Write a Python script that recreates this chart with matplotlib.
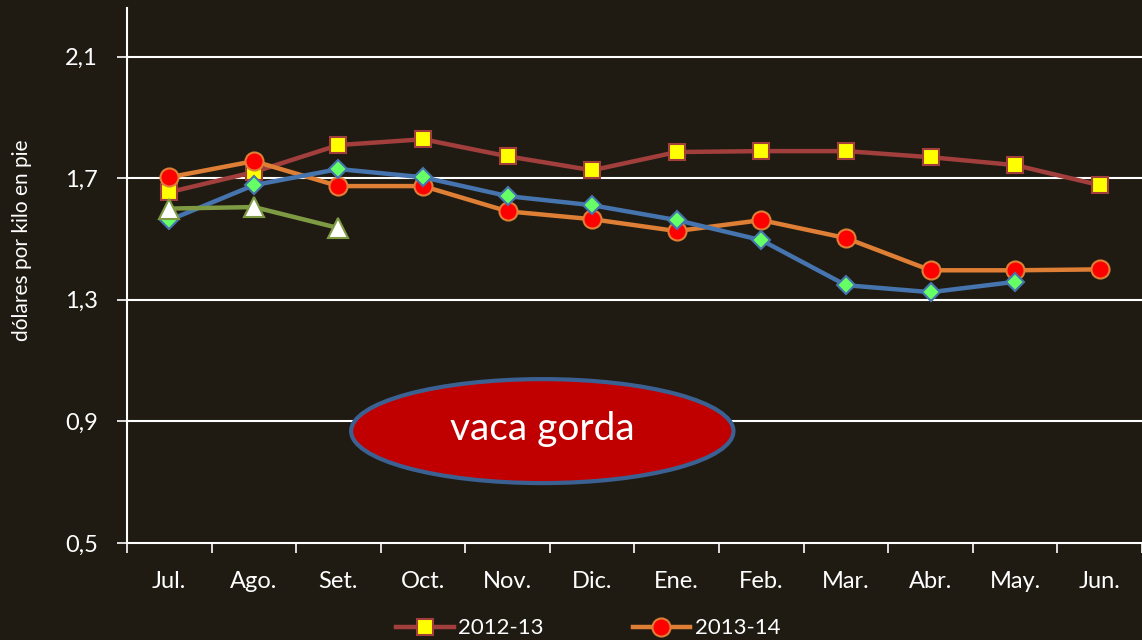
import matplotlib
matplotlib.use("Agg")
import matplotlib.pyplot as plt
from matplotlib.patches import Ellipse
import numpy as np

plt.rcParams['font.family'] = ['Lato', 'DejaVu Sans']

months = ["Jul.", "Ago.", "Set.", "Oct.", "Nov.", "Dic.", "Ene.", "Feb.", "Mar.", "Abr.", "May.", "Jun."]
s_2012_13 = [1.654, 1.72, 1.809, 1.828, 1.772, 1.726, 1.786, 1.789, 1.789, 1.769, 1.743, 1.677]
s_2013_14 = [1.703, 1.756, 1.674, 1.674, 1.591, 1.565, 1.526, 1.562, 1.503, 1.397, 1.397, 1.40]
s_2014_15 = [1.562, 1.677, 1.73, 1.703, 1.641, 1.611, 1.562, 1.496, 1.348, 1.325, 1.359]
s_2015_16 = [1.60, 1.605, 1.536]
yticks = [0.5, 0.9, 1.3, 1.7, 2.1]
ytick_labels = ["0,5", "0,9", "1,3", "1,7", "2,1"]

bg = "#1F1B12"
fig = plt.figure(figsize=(11.42, 6.40), dpi=100, facecolor=bg)
ax = fig.add_axes([0.1112, 0.1516, 0.8888, 0.836], facecolor=bg)

x = np.arange(len(months))
ax.set_xlim(-0.5, len(months) - 0.5)
ax.set_ylim(0.5, 2.26)

for yv in yticks[1:]:
    ax.axhline(yv, color="white", lw=1.5, zorder=1)

l1, = ax.plot(x[:len(s_2012_13)], s_2012_13, color="#A23F3D", lw=3.2, marker="s",
              markersize=12, markerfacecolor="#FFFF00", markeredgecolor="#A23F3D",
              markeredgewidth=1.5, zorder=3, label="2012-13")
l2, = ax.plot(x[:len(s_2013_14)], s_2013_14, color="#DF7F36", lw=3.2, marker="o",
              markersize=13, markerfacecolor="#FF0000", markeredgecolor="#DF7F36",
              markeredgewidth=1.5, zorder=4, label="2013-14")
l3, = ax.plot(x[:len(s_2014_15)], s_2014_15, color="#4674AE", lw=3.2, marker="D",
              markersize=9, markerfacecolor="#66FF66", markeredgecolor="#4674AE",
              markeredgewidth=1.5, zorder=5, label="2014-15")
l4, = ax.plot(x[:len(s_2015_16)], s_2015_16, color="#7E9A43", lw=3.2, marker="^",
              markersize=14, markerfacecolor="#FFFFFF", markeredgecolor="#7E9A43",
              markeredgewidth=1.5, zorder=6, label="2015-16")

ax.set_yticks(yticks)
ax.set_yticklabels(ytick_labels)
ax.set_xticks(np.arange(-0.5, len(months), 1.0))
ax.set_xticklabels([])
ax.set_xticks(x, minor=True)
ax.set_xticklabels(months, minor=True)
ax.tick_params(axis="x", which="major", colors="white", length=7, width=1.2, direction="out")
ax.tick_params(axis="x", which="minor", length=0, pad=20, labelcolor="white", labelsize=17)
ax.tick_params(axis="y", colors="white", length=7, width=1.2, direction="out", labelsize=17, pad=14)

for side in ["top", "right"]:
    ax.spines[side].set_visible(False)
for side in ["left", "bottom"]:
    ax.spines[side].set_color("white")
    ax.spines[side].set_linewidth(1.5)

fig.text(22 / 1142, 1 - 240 / 640, "dólares por kilo en pie", color="white", fontsize=15,
         rotation=90, ha="center", va="center")

ell = Ellipse((4.41, 0.868), width=4.52, height=0.342, facecolor="#C00000",
              edgecolor="#3B6193", lw=3, zorder=7)
ax.add_patch(ell)
ax.text(4.41, 0.875, "vaca gorda", color="white", fontsize=28, ha="center",
        va="center", zorder=8)

fig.legend(handles=[l1, l2], labels=["2012-13", "2013-14"], loc="center",
           bbox_to_anchor=(0.515, 0.018), ncol=2, frameon=False, fontsize=16,
           labelcolor="white", handlelength=2.6, columnspacing=4.0, handletextpad=0.2)

fig.savefig("out.png", dpi=100, facecolor=bg)
